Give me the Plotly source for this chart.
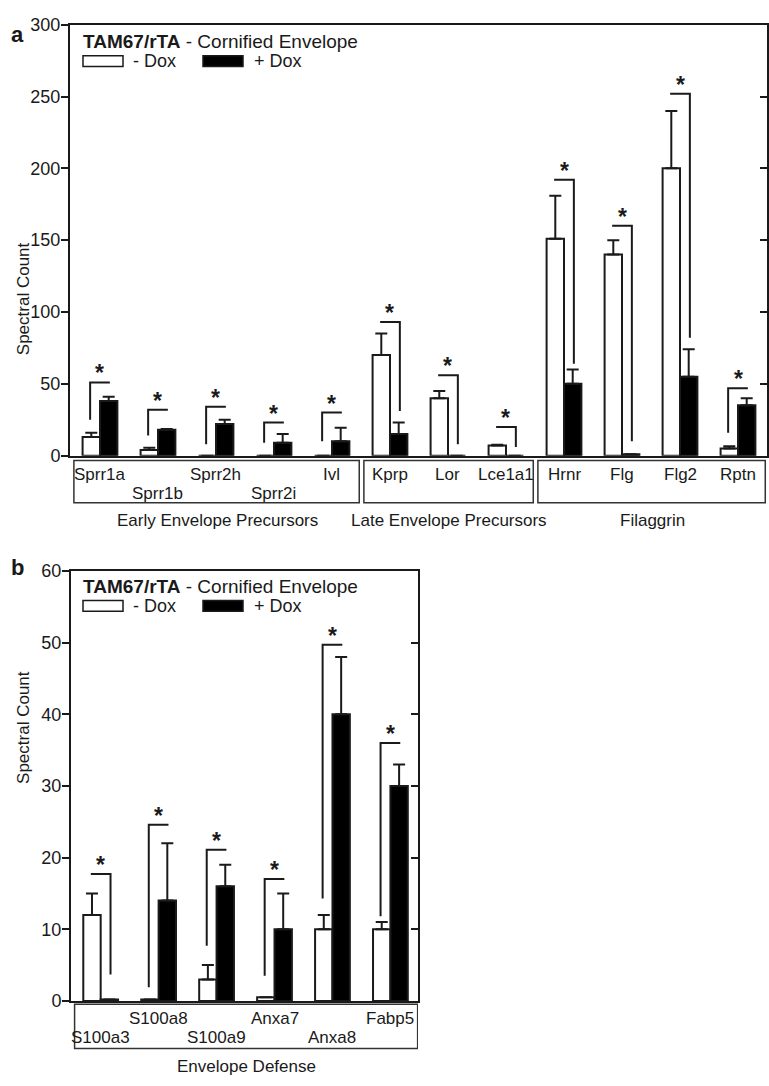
import plotly.graph_objects as go

W, H = 769, 1086
FONT = "Liberation Sans, Arial, sans-serif"
INK = "#1a1a1a"

# ---------------- Panel a data ----------------
cats_a = ["Sprr1a", "Sprr1b", "Sprr2h", "Sprr2i", "Ivl", "Kprp", "Lor", "Lce1a1",
          "Hrnr", "Flg", "Flg2", "Rptn"]
minus_a = [13, 4, 0, 0, 0, 70, 40, 7, 151, 140, 200, 5]
minus_a_err = [3, 1.5, 0, 0, 0, 15, 5, 0.5, 30, 10, 40, 1.5]
plus_a = [38, 18, 22, 9, 10, 15, 0, 0, 50, 1, 55, 35]
plus_a_err = [3, 0.5, 3, 6, 9.5, 8, 0, 0, 10, 0, 19, 5]
bracket_top_a = [51, 32, 34, 23, 30, 93, 56, 20, 192, 160, 252, 47]
bracket_left_a = [25, 14, 8, 9, 10, 93, 56, 20, 192, 160, 252, 16]
bracket_right_a = [51, 32, 34, 23, 30, 31, 8, 6, 64, 10, 82, 47]
rows_a = [0, 1, 0, 1, 0, 0, 0, 0, 0, 0, 0, 0]
groups_a = ["Early Envelope Precursors", "Late Envelope Precursors", "Filaggrin"]
group_span_a = [(0, 4), (5, 7), (8, 11)]
yticks_a = [0, 50, 100, 150, 200, 250, 300]

# ---------------- Panel b data ----------------
cats_b = ["S100a3", "S100a8", "S100a9", "Anxa7", "Anxa8", "Fabp5"]
minus_b = [12, 0.2, 3, 0.5, 10, 10]
minus_b_err = [3, 0, 2, 0, 2, 1]
plus_b = [0.2, 14, 16, 10, 40, 30]
plus_b_err = [0, 8, 3, 5, 8, 3]
bracket_top_b = [17.7, 24.6, 21.1, 17, 49.7, 36]
bracket_left_b = [17.7, 1.9, 7.7, 3.5, 14.3, 11.8]
bracket_right_b = [3.7, 24.6, 21.1, 17, 49.7, 36]
rows_b = [1, 0, 1, 0, 1, 0]
groups_b = ["Envelope Defense"]
group_span_b = [(0, 5)]
yticks_b = [0, 10, 20, 30, 40, 50, 60]

series_names = ["- Dox", "+ Dox"]
title_bold = "TAM67/rTA"
title_rest = " - Cornified Envelope"


def px_x(p):
    return p / W


def px_y(p):
    return 1 - p / H


fig = go.Figure()


def add_panel(cats, minus, minus_err, plus, plus_err, btop, bleft, bright,
              xa, ya):
    xs = list(range(len(cats)))
    fig.add_trace(go.Bar(
        x=xs, y=minus, name=series_names[0], xaxis=xa, yaxis=ya,
        marker=dict(color="white", line=dict(color=INK, width=2)),
        error_y=dict(type="data", array=minus_err, arrayminus=[0] * len(cats),
                     symmetric=False, color=INK, thickness=2, width=6),
        showlegend=False, offsetgroup="m"))
    fig.add_trace(go.Bar(
        x=xs, y=plus, name=series_names[1], xaxis=xa, yaxis=ya,
        marker=dict(color="black", line=dict(color=INK, width=2)),
        error_y=dict(type="data", array=plus_err, arrayminus=[0] * len(cats),
                     symmetric=False, color=INK, thickness=2, width=6),
        showlegend=False, offsetgroup="p"))
    bx, by = [], []
    for i in xs:
        l, r = i - 0.17, i + 0.17
        bx += [l, l, r, r, None]
        by += [bleft[i], btop[i], btop[i], bright[i], None]
    fig.add_trace(go.Scatter(x=bx, y=by, mode="lines", xaxis=xa, yaxis=ya,
                             line=dict(color=INK, width=2), showlegend=False,
                             hoverinfo="skip"))
    for i in xs:
        fig.add_annotation(x=i, y=btop[i], xref=xa, yref=ya, text="<b>*</b>",
                           showarrow=False, yanchor="bottom", yshift=-6,
                           font=dict(size=23, family=FONT, color=INK))


add_panel(cats_a, minus_a, minus_a_err, plus_a, plus_a_err,
          bracket_top_a, bracket_left_a, bracket_right_a, "x", "y")
add_panel(cats_b, minus_b, minus_b_err, plus_b, plus_b_err,
          bracket_top_b, bracket_left_b, bracket_right_b, "x2", "y3")

axis_common = dict(showgrid=False, zeroline=False, showline=True,
                   linecolor=INK, linewidth=2)
tickfont = dict(size=18, family=FONT, color=INK)

fig.update_layout(
    width=W, height=H, margin=dict(l=0, r=0, t=0, b=0),
    paper_bgcolor="white", plot_bgcolor="white",
    barmode="group", bargap=0.4, bargroupgap=0,
    font=dict(family=FONT, color=INK),
    xaxis=dict(domain=[px_x(70), px_x(767)], range=[-0.517, 11.5], anchor="y",
               showticklabels=False, ticks="", mirror=True, **axis_common),
    yaxis=dict(domain=[px_y(454), px_y(15)], range=[0, 300], anchor="x",
               tickvals=yticks_a, ticks="outside", ticklen=7, tickwidth=2,
               tickcolor=INK, tickfont=tickfont, ticklabelstandoff=-3,
               **axis_common),
    yaxis2=dict(overlaying="y", side="right", anchor="x", range=[0, 300],
                tickvals=yticks_a, ticks="inside", ticklen=7, tickwidth=2,
                tickcolor=INK, showticklabels=False, **axis_common),
    xaxis2=dict(domain=[px_x(71), px_x(418)], range=[-0.512, 5.476], anchor="y3",
                showticklabels=False, ticks="", mirror=True, **axis_common),
    yaxis3=dict(domain=[px_y(1009.5), px_y(571.5)], range=[0, 60], anchor="x2",
                tickvals=yticks_b, ticks="outside", ticklen=7, tickwidth=2,
                tickcolor=INK, tickfont=tickfont, ticklabelstandoff=-3,
                **axis_common),
    yaxis4=dict(overlaying="y3", side="right", anchor="x2", range=[0, 60],
                tickvals=yticks_b, ticks="inside", ticklen=7, tickwidth=2,
                tickcolor=INK, showticklabels=False, **axis_common),
)

# invisible helpers so the mirrored right-hand axes are drawn
fig.add_trace(go.Scatter(x=[0], y=[0], xaxis="x", yaxis="y2", mode="markers",
                         marker=dict(opacity=0), showlegend=False, hoverinfo="skip"))
fig.add_trace(go.Scatter(x=[0], y=[0], xaxis="x2", yaxis="y4", mode="markers",
                         marker=dict(opacity=0), showlegend=False, hoverinfo="skip"))

lab_font = dict(size=17, family=FONT, color=INK)


def add_labels(cats, rows, groups, spans, xa, row_y, box_top, box_bot, group_y):
    for i, c in enumerate(cats):
        fig.add_annotation(x=i, y=px_y(row_y[rows[i]]), xref=xa, yref="paper",
                           text=c, showarrow=False, yanchor="middle",
                           font=lab_font)
    for g, (s, e) in zip(groups, spans):
        fig.add_shape(type="rect", xref=xa, yref="paper",
                      x0=s - 0.45, x1=e + 0.47, y0=px_y(box_bot), y1=px_y(box_top),
                      line=dict(color="#333", width=1.5))
        fig.add_annotation(x=(s + e) / 2 + 0.02, y=px_y(group_y), xref=xa,
                           yref="paper", text=g, showarrow=False,
                           yanchor="middle", font=lab_font)


add_labels(cats_a, rows_a, groups_a, group_span_a, "x", [473, 493], 459, 502, 520)
add_labels(cats_b, rows_b, groups_b, group_span_b, "x2", [1027, 1047], 1013, 1058, 1076)


def add_legend(title_y, row_y):
    fig.add_annotation(x=px_x(81), y=px_y(title_y), xref="paper", yref="paper",
                       text="<b>" + title_bold + "</b>" + title_rest,
                       showarrow=False, xanchor="left", yanchor="middle",
                       font=dict(size=19, family=FONT, color=INK))
    fig.add_shape(type="rect", xref="paper", yref="paper",
                  x0=px_x(83), x1=px_x(123), y0=px_y(row_y + 5.5), y1=px_y(row_y - 5.5),
                  fillcolor="white", line=dict(color=INK, width=1.5))
    fig.add_annotation(x=px_x(131), y=px_y(row_y), xref="paper", yref="paper",
                       text=series_names[0], showarrow=False, xanchor="left",
                       yanchor="middle", font=dict(size=18, family=FONT, color=INK))
    fig.add_shape(type="rect", xref="paper", yref="paper",
                  x0=px_x(203), x1=px_x(243), y0=px_y(row_y + 5.5), y1=px_y(row_y - 5.5),
                  fillcolor="black", line=dict(color=INK, width=1.5))
    fig.add_annotation(x=px_x(252), y=px_y(row_y), xref="paper", yref="paper",
                       text=series_names[1], showarrow=False, xanchor="left",
                       yanchor="middle", font=dict(size=18, family=FONT, color=INK))


add_legend(32, 52)
add_legend(587, 607)

# axis titles and panel letters
for yc in [234.5, 790.5]:
    fig.add_annotation(x=px_x(12), y=px_y(yc), xref="paper", yref="paper",
                       text="Spectral Count", textangle=-90, showarrow=False,
                       font=lab_font)
for letter, yc in [("a", 10), ("b", 568)]:
    fig.add_annotation(x=px_x(9), y=px_y(yc), xref="paper", yref="paper",
                       text="<b>" + letter + "</b>", showarrow=False,
                       font=dict(size=22, family=FONT, color=INK))

fig.write_html("out.html", config={"displayModeBar": False},
               post_script="document.body.style.margin='0';")
